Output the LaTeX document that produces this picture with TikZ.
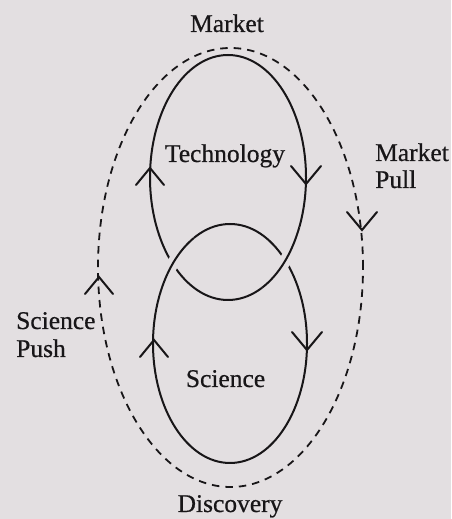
\documentclass[tikz,border=0pt]{standalone}
\usepackage{fontspec}
\setmainfont{Liberation Serif}[BoldFont=Liberation Serif, BoldFeatures={FakeBold=0.6}]
\begin{document}
\begin{tikzpicture}[x=1pt,y=1pt,
  paper/.style={fill=pagebg},
  ring/.style={draw=ink, line width=2pt},
  loop/.style={draw=ink, line width=1.8pt, dash pattern=on 7.5pt off 6pt},
  over/.style={ring, preaction={draw=pagebg, line width=12pt}},
  lbl/.style={text=ink, inner sep=0pt, font=\fontsize{25.5}{28}\selectfont\bfseries},
  uptip/.pic={\draw[ring, line cap=round, line join=miter] (-14,-17) -- (0,0) -- (14,-17);},
  downtip/.pic={\draw[ring, line cap=round, line join=miter] (-15,18) -- (0,0) -- (15,18);}
]
\definecolor{pagebg}{RGB}{227,223,225}
\definecolor{ink}{RGB}{24,22,24}

% page
\useasboundingbox (0,0) rectangle (451,519);
\fill[paper] (0,0) rectangle (451,519);

% centres of the three cycles
\coordinate (tech) at (228,341.5);
\coordinate (sci)  at (230,175.5);
\coordinate (mkt)  at (230.5,251.5);

% outer dashed cycle (market pull / science push)
\draw[loop] (mkt) ellipse [x radius=132.5, y radius=219.5];

% the two interlocking rings
\draw[ring] (tech) ellipse [x radius=78, y radius=122.5];
\draw[ring] (sci)  ellipse [x radius=77, y radius=119.5];

% crossings: science passes over on the left, technology on the right
\draw[over] ([shift={(118:77 and 119.5)}]sci) arc [start angle=118, end angle=156, x radius=77, y radius=119.5];
\draw[over] ([shift={(-64:78 and 122.5)}]tech) arc [start angle=-64, end angle=-24, x radius=78, y radius=122.5];

% direction marks
\coordinate (techL) at (150,351);
\coordinate (techR) at (306,335);
\coordinate (sciL)  at (154,179);
\coordinate (sciR)  at (307,169);
\coordinate (pull)  at (362,289);
\coordinate (push)  at (99,242);
\pic at (techL) {uptip};
\pic at (techR) {downtip};
\pic at (sciL)  {uptip};
\pic at (sciR)  {downtip};
\pic at (pull)  {downtip};
\pic at (push)  {uptip};

% labels
\node[lbl, anchor=base] (market) at (227,487) {Market};
\node[lbl, anchor=base] (technology) at (225,357) {Technology};
\node[lbl, anchor=base] (science) at (225.5,132) {Science};
\node[lbl, anchor=base] (discovery) at (230,7) {Discovery};
\node[lbl, anchor=base west] (pullA) at (375,358) {Market};
\node[lbl, anchor=base west] (pullB) at (375,331) {Pull};
\node[lbl, anchor=base west] (pushA) at (16,190) {Science};
\node[lbl, anchor=base west] (pushB) at (16,162) {Push};
\end{tikzpicture}
\end{document}
